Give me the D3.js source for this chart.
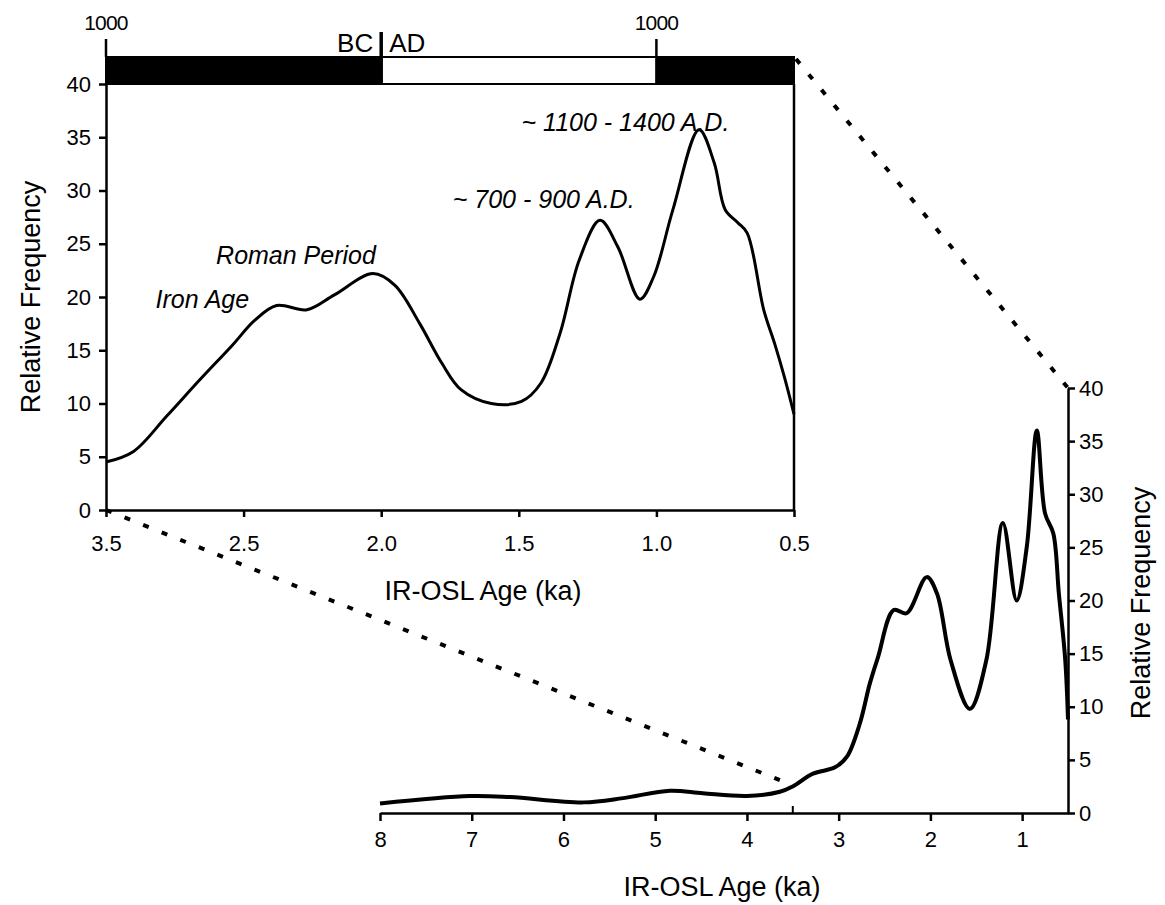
<!DOCTYPE html>
<html lang="en">
<head>
<meta charset="utf-8">
<title>IR-OSL Age frequency</title>
<script src="https://d3js.org/d3.v7.min.js"></script>
<style>
  body { margin: 0; background: #fff; }
  svg text { font-family: "Liberation Sans", Arial, sans-serif; fill: #000; }
</style>
</head>
<body>
<script>
// ---- data ----
// zoomed panel, age in ka (descending) and relative frequency
var upperAge  = [3.0, 2.9, 2.78, 2.66, 2.54, 2.46, 2.38, 2.27, 2.17, 2.03, 1.95, 1.86, 1.78, 1.71, 1.6, 1.49, 1.42, 1.35, 1.28, 1.205, 1.14, 1.06, 1.01, 0.94, 0.845, 0.79, 0.75, 0.705, 0.67, 0.61, 0.57, 0.535, 0.5];
var upperFreq = [4.5, 5.5, 8.8, 12.2, 15.5, 17.8, 19.2, 18.8, 20.2, 22.2, 21.1, 17.5, 13.8, 11.3, 10.0, 10.2, 11.9, 16.6, 23.5, 27.2, 24.7, 19.8, 21.9, 28.2, 35.7, 32.6, 28.2, 27.0, 26.0, 18.8, 15.6, 12.5, 9.0];
// full record
var lowerAge  = [8.0, 7.02, 6.58, 5.78, 5.35, 4.84, 4.48, 4.0, 3.64, 3.5, 3.28, 3.04, 2.91, 2.77, 2.66, 2.57, 2.4, 2.26, 2.04, 1.93, 1.78, 1.57, 1.39, 1.21, 1.06, 0.95, 0.84, 0.75, 0.66, 0.6, 0.53, 0.5];
var lowerFreq = [0.9, 1.6, 1.5, 1.0, 1.4, 2.1, 1.85, 1.6, 2.0, 2.5, 3.7, 4.3, 5.3, 8.4, 12.2, 14.7, 19.1, 18.8, 22.2, 20.7, 14.4, 9.8, 14.4, 27.3, 20.0, 25.0, 36.0, 28.2, 26.3, 20.7, 14.4, 8.8];

var freqTicks = [0, 5, 10, 15, 20, 25, 30, 35, 40];
var upperAgeTicks  = [3.0, 2.5, 2.0, 1.5, 1.0, 0.5];
var upperAgeLabels = ["3.5", "2.5", "2.0", "1.5", "1.0", "0.5"];
var lowerAgeTicks  = [8, 7, 6, 5, 4, 3, 2, 1];

// calendar bar: era boundaries (years, negative = BC) and labels
var eraYears = [-1000, 0, 1000, 1500];
var eraTickYears = [-1000, 1000];
var eraTickLabels = ["1000", "1000"];

var annotations = [
  {text: "Iron Age", age: 2.82, freq: 19.0},
  {text: "Roman Period", age: 2.6, freq: 23.1},
  {text: "~ 700 - 900 A.D.", age: 1.74, freq: 28.4},
  {text: "~ 1100 - 1400 A.D.", age: 1.49, freq: 35.6}
];

// ---- layout ----
var w = 1165, h = 905;
var svg = d3.select("body").append("svg").attr("width", w).attr("height", h);

var xU = d3.scaleLinear().domain([3.0, 0.5]).range([106, 794]);
var yU = d3.scaleLinear().domain([0, 40]).range([510, 84]);
var xL = d3.scaleLinear().domain([8, 0.5]).range([380, 1068]);
var yL = d3.scaleLinear().domain([0, 40]).range([813, 388]);
// year -> age in ka
function yearX(yr) { return xU((2000 - yr) / 1000); }

var barTop = 57, barBot = 84;

// ---- dashed connectors ----
var conn = svg.append("g").attr("fill", "none").attr("stroke", "#000")
  .attr("stroke-width", 4).attr("stroke-dasharray", "6,14");
conn.append("line").attr("x1", xU(3.0)).attr("y1", yU(0)).attr("x2", xL(3.5)).attr("y2", yL(2.6));
conn.append("line").attr("x1", xU(0.5) + 2).attr("y1", barTop + 2).attr("x2", xL(0.5)).attr("y2", yL(40));

// ---- upper panel ----
var gU = svg.append("g");
gU.append("g").attr("transform", "translate(106,0)")
  .call(d3.axisLeft(yU).tickValues(freqTicks).tickSize(7).tickSizeOuter(0).tickPadding(8));
gU.append("g").attr("transform", "translate(0,510)")
  .call(d3.axisBottom(xU).tickValues(upperAgeTicks).tickSize(7).tickSizeOuter(0).tickPadding(18)
    .tickFormat(function(d, i) { return upperAgeLabels[i]; }));
gU.append("line").attr("x1", 794).attr("x2", 794).attr("y1", barBot).attr("y2", 510)
  .attr("stroke", "#000").attr("stroke-width", 2.5);

// calendar bar
for (var i = 0; i < eraYears.length - 1; i++) {
  var xa = yearX(eraYears[i]), xb = yearX(eraYears[i + 1]);
  gU.append("rect").attr("x", xa).attr("y", barTop).attr("width", xb - xa).attr("height", barBot - barTop)
    .attr("fill", i % 2 === 0 ? "#000" : "#fff").attr("stroke", "#000").attr("stroke-width", 2);
}
eraTickYears.forEach(function(yr, i) {
  gU.append("line").attr("x1", yearX(yr)).attr("x2", yearX(yr)).attr("y1", 39).attr("y2", barTop)
    .attr("stroke", "#000").attr("stroke-width", 2.5);
  gU.append("text").attr("x", yearX(yr)).attr("y", 30).attr("text-anchor", "middle")
    .attr("font-size", 21).attr("letter-spacing", -0.8).text(eraTickLabels[i]);
});
gU.append("line").attr("x1", yearX(0)).attr("x2", yearX(0)).attr("y1", 32).attr("y2", barBot)
  .attr("stroke", "#000").attr("stroke-width", 3.5);
gU.append("text").attr("x", yearX(0) - 8).attr("y", 52).attr("text-anchor", "end").attr("font-size", 26).text("BC");
gU.append("text").attr("x", yearX(0) + 8).attr("y", 52).attr("text-anchor", "start").attr("font-size", 26).text("AD");

var lineU = d3.line().x(function(d) { return xU(d[0]); }).y(function(d) { return yU(d[1]); }).curve(d3.curveCatmullRom.alpha(0.5));
gU.append("path").datum(d3.zip(upperAge, upperFreq)).attr("d", lineU)
  .attr("fill", "none").attr("stroke", "#000").attr("stroke-width", 3);

annotations.forEach(function(a) {
  gU.append("text").attr("x", xU(a.age)).attr("y", yU(a.freq)).attr("font-size", 25)
    .attr("font-style", "italic").text(a.text);
});

gU.append("text").attr("x", 483).attr("y", 600).attr("text-anchor", "middle").attr("font-size", 27).text("IR-OSL Age (ka)");
gU.append("text").attr("transform", "translate(40,297) rotate(-90)").attr("text-anchor", "middle")
  .attr("font-size", 27).text("Relative Frequency");

// ---- lower panel ----
var gL = svg.append("g");
gL.append("g").attr("transform", "translate(0,813)")
  .call(d3.axisBottom(xL).tickValues(lowerAgeTicks).tickSize(8).tickSizeOuter(0).tickPadding(10)
    .tickFormat(d3.format("d")));
gL.append("line").attr("x1", xL(3.5)).attr("x2", xL(3.5)).attr("y1", 813).attr("y2", 806)
  .attr("stroke", "#000").attr("stroke-width", 2);
gL.append("g").attr("transform", "translate(1068,0)")
  .call(d3.axisRight(yL).tickValues(freqTicks).tickSize(7).tickSizeOuter(0).tickPadding(4));

var lineL = d3.line().x(function(d) { return xL(d[0]); }).y(function(d) { return yL(d[1]); }).curve(d3.curveCatmullRom.alpha(0.5));
gL.append("path").datum(d3.zip(lowerAge, lowerFreq)).attr("d", lineL)
  .attr("fill", "none").attr("stroke", "#000").attr("stroke-width", 4);

gL.append("text").attr("x", 722).attr("y", 896).attr("text-anchor", "middle").attr("font-size", 27).text("IR-OSL Age (ka)");
gL.append("text").attr("transform", "translate(1150,603) rotate(-90)").attr("text-anchor", "middle")
  .attr("font-size", 27).text("Relative Frequency");

// axis styling
svg.selectAll(".domain").attr("stroke", "#000").attr("stroke-width", 2.5);
svg.selectAll(".tick line").attr("stroke", "#000").attr("stroke-width", 2.5);
svg.selectAll(".tick text").attr("font-size", 22).attr("font-family", "Liberation Sans, Arial, sans-serif").attr("fill", "#000");
</script>
</body>
</html>
